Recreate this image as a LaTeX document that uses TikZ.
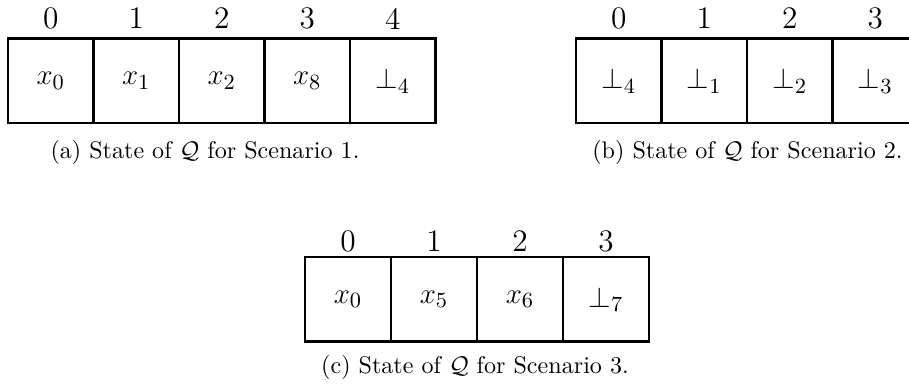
\documentclass[tikz,border=0pt]{standalone}
\begin{document}
\begin{tikzpicture}[x=0.415pt,y=-0.415pt,
  cellw/.style={draw,line width=1.1pt,minimum width=35.5pt,minimum height=35pt,inner sep=0pt,font=\fontsize{13}{15}\selectfont},
  cellc/.style={cellw,minimum width=35.7pt},
  idx/.style={inner sep=0pt,font=\fontsize{13}{15}\selectfont},
  captext/.style={inner sep=0pt,font=\normalsize}]
\clip (0,0) rectangle (909,390);
% (a)
\foreach \i/\t in {0/$x_0$,1/$x_1$,2/$x_2$,3/$x_8$,4/$\bot_4$}{
  \node[cellw] (a\i) at ({50.75+85.5*\i},80.8) {\t};
  \node[idx] (la\i) at ({50.75+85.5*\i},18.5) {\i};
}
\node[captext] (capa) at (205,152) {(a) State of $\mathcal{Q}$ for Scenario 1.};
% (b)
\foreach \i/\t in {0/$\bot_4$,1/$\bot_1$,2/$\bot_2$,3/$\bot_3$}{
  \node[cellw] (b\i) at ({618.75+85.5*\i},80.8) {\t};
  \node[idx] (lb\i) at ({618.75+85.5*\i},18.5) {\i};
}
\node[captext] (capb) at (747.5,152) {(b) State of $\mathcal{Q}$ for Scenario 2.};
% (c)
\foreach \i/\t in {0/$x_0$,1/$x_5$,2/$x_6$,3/$\bot_7$}{
  \node[cellc] (c\i) at ({348+86*\i},299.3) {\t};
  \node[idx] (lc\i) at ({348+86*\i},241) {\i};
}
\node[captext] (capc) at (475,367) {(c) State of $\mathcal{Q}$ for Scenario 3.};
\end{tikzpicture}
\end{document}
